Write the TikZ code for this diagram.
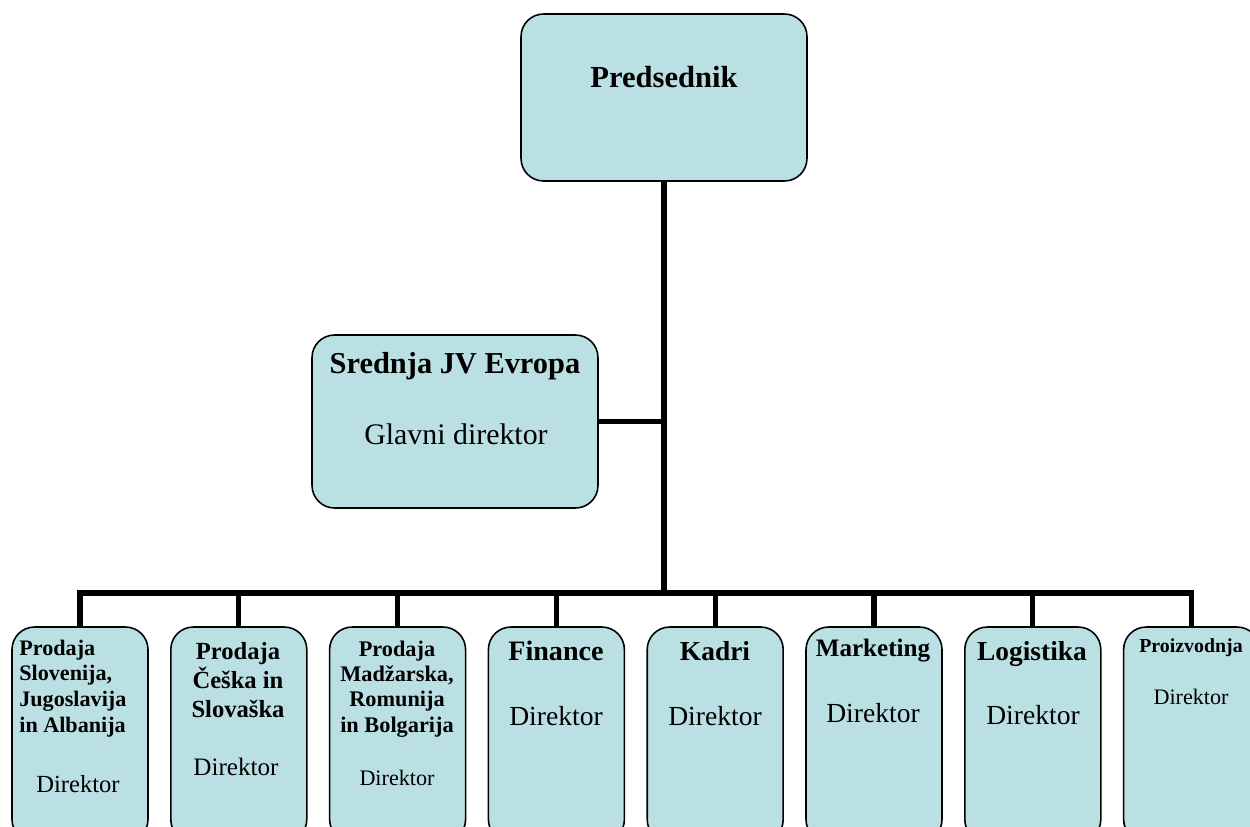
\documentclass[tikz,border=0pt]{standalone}
\usepackage{fontspec}
\setmainfont{Liberation Serif}
\usetikzlibrary{positioning}
\definecolor{boxfill}{RGB}{187,224,227}

\begin{document}
\begin{tikzpicture}[x=0.02cm, y=0.02cm,
    every node/.style={inner sep=0pt},
    box/.style={draw, fill=boxfill, line width=0.9pt, rounded corners=0.45cm},
    unit/.style={box, minimum width=2.72cm, minimum height=4.3cm},
    link/.style={line width=2.9pt},
    head/.style={anchor=base, align=center, font=\fontsize{#1}{#1}\selectfont\bfseries},
    role/.style={anchor=base, font=\fontsize{#1}{#1}\selectfont},
    node distance=0.425cm
  ]
  \useasboundingbox (0,0) rectangle (1250,-826);
  % boxes
  \node [box, minimum width=5.72cm, minimum height=3.34cm] (pres) at (664,-97.5) {};
  \node [box, minimum width=5.72cm, minimum height=3.46cm] (sred) at (455,-421.5) {};
  \node [unit] (b1) at (80,-734.5) {};
  \node [unit, right=of b1] (b2) {};
  \node [unit, right=of b2] (b3) {};
  \node [unit, right=of b3] (b4) {};
  \node [unit, right=of b4] (b5) {};
  \node [unit, right=of b5] (b6) {};
  \node [unit, right=of b6] (b7) {};
  \node [unit, right=of b7] (b8) {};
  % lines
  \coordinate (hub) at (664,-593);
  \draw [link] (pres.south) -- (hub);
  \draw [link] (sred.east) -- (sred.east -| hub);
  \draw [link] (b1.north) |- (hub) -| (b8.north);
  \foreach \i in {2,...,7} \draw [link] (b\i.north) -- (b\i.north |- hub);
  % texts (multi-line: base is the last line)
  \node [head=17.4] (presT) at (664,-87) {Predsednik};
  \node [head=17.3] (sredT) at (455,-373) {Srednja JV Evropa};
  \node [role=17] (sredR) at (456,-444) {Glavni direktor};
  \node [head=12.6, anchor=base west, align=left, font=\fontsize{12.6}{14.6}\selectfont\bfseries] (b1T) at (19,-732) {Prodaja\\Slovenija,\\Jugoslavija\\in Albanija};
  \node [role=14] (b1R) at (78,-792) {Direktor};
  \node [head=14, font=\fontsize{14}{16.5}\selectfont\bfseries] (b2T) at (238,-717) {Prodaja\\Češka in\\Slovaška};
  \node [role=14.3] (b2R) at (236,-775) {Direktor};
  \node [head=12.7, font=\fontsize{12.7}{14.4}\selectfont\bfseries] (b3T) at (397,-732) {Prodaja\\Madžarska,\\Romunija\\in Bolgarija};
  \node [role=12.6] (b3R) at (397,-785) {Direktor};
  \node [head=16] (b4T) at (556,-660) {Finance};
  \node [role=15.7] (b4R) at (556,-725) {Direktor};
  \node [head=15.6] (b5T) at (715,-660) {Kadri};
  \node [role=15.7] (b5R) at (715,-725) {Direktor};
  \node [head=14.3] (b6T) at (873,-656) {Marketing};
  \node [role=15.7] (b6R) at (873,-722) {Direktor};
  \node [head=15.6] (b7T) at (1032,-660) {Logistika};
  \node [role=15.7] (b7R) at (1033,-724) {Direktor};
  \node [head=11.3] (b8T) at (1191,-652) {Proizvodnja};
  \node [role=12.6] (b8R) at (1191,-704) {Direktor};
\end{tikzpicture}
\end{document}
